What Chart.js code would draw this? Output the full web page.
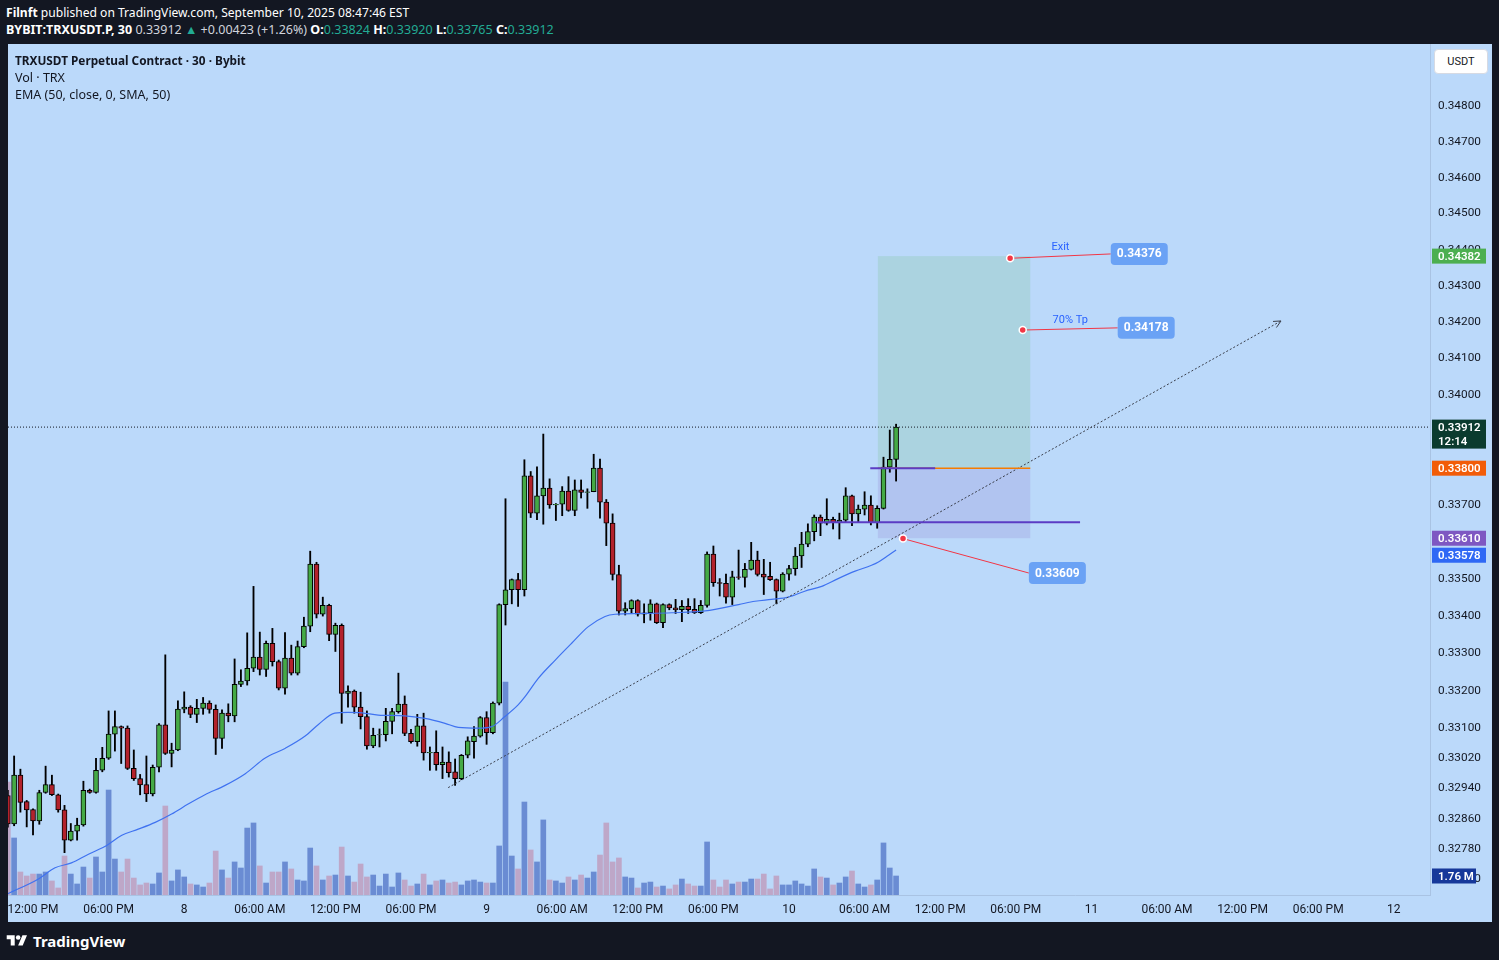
<!DOCTYPE html>
<html>
<head>
<meta charset="utf-8">
<script src="https://cdn.jsdelivr.net/npm/chart.js@4.4.1/dist/chart.umd.min.js"></script>
<style>
  html,body{margin:0;padding:0;width:1499px;height:960px;overflow:hidden;background:#131722;font-family:'Noto Sans',sans-serif}
  #hdr{position:absolute;left:6px;top:4px;color:#fff;font-size:12.5px;line-height:17px;white-space:nowrap}
  #hdr .l1{font-size:12.1px}
  #hdr .t{color:#22ab94}
  #hdr .g{color:#d1d4dc}
  #wrap{position:absolute;left:8px;top:44px;width:1484px;height:878px;background:#bbd9fa}
  #legend{position:absolute;left:7px;top:8px;color:#131722;font-size:12.5px;line-height:17px;white-space:nowrap}
  #legend .b{font-size:11.8px}
  #usdt{position:absolute;left:1426px;top:5px;width:52px;height:23px;background:#fff;border:1px solid #d6dae3;border-radius:4px;
        font:11px Roboto,sans-serif;color:#131722;text-align:center;line-height:23px}
  #foot{position:absolute;left:6px;top:931px;color:#fff;font-weight:bold;font-size:15px;line-height:20px;display:flex;align-items:center;gap:5px}
</style>
</head>
<body>
<div id="hdr">
  <div class="l1"><b>Filnft</b> published on TradingView.com, September 10, 2025 08:47:46 EST</div>
  <div><b>BYBIT:TRXUSDT.P, 30</b> <span class="g">0.33912 <span class="t">▲</span> +0.00423 (+1.26%)</span> <b>O:</b><span class="t">0.33824</span> <b>H:</b><span class="t">0.33920</span> <b>L:</b><span class="t">0.33765</span> <b>C:</b><span class="t">0.33912</span></div>
</div>
<div id="wrap">
  <canvas id="c" width="1484" height="878"></canvas>
  <div id="legend">
    <div class="b"><b>TRXUSDT Perpetual Contract · 30 · Bybit</b></div>
    <div>Vol · TRX</div>
    <div>EMA (50, close, 0, SMA, 50)</div>
  </div>
  <div id="usdt">USDT</div>
</div>
<div id="foot">
  <svg width="22" height="16" viewBox="0 0 36 28"><path d="M14 22H7V11H0V4h14v18z" fill="#fff"/><circle cx="20" cy="8" r="4" fill="#fff"/><path d="M28 22h-8l7.5-18h8L28 22z" fill="#fff"/></svg>
  <span>TradingView</span>
</div>
<script>
/* ============================
   Data (30 min bars, bar 0 = Sep 7 12:00 PM)
============================ */
const firstBar = -4;   // Sep 7 10:00 AM
const opens = [
  0.32921,0.32846,0.32975,0.32905,0.32884,0.32854,0.32929,0.32950,0.32923,0.32883,0.32803,0.32827,0.32843,0.32935,0.32929,0.32988,
  0.33020,0.33084,0.33104,0.33100,0.32993,0.32966,0.32950,0.32925,0.32996,0.33109,0.33033,0.33042,0.33151,0.33156,0.33137,0.33153,
  0.33167,0.33150,0.33073,0.33140,0.33133,0.33217,0.33226,0.33260,0.33290,0.33257,0.33327,0.33278,0.33207,0.33287,0.33247,0.33318,
  0.33373,0.33540,0.33405,0.33429,0.33351,0.33375,0.33193,0.33199,0.33156,0.33131,0.33053,0.33082,0.33083,0.33118,0.33144,0.33164,
  0.33086,0.33064,0.33106,0.33034,0.33036,0.33003,0.33010,0.32984,0.32966,0.33028,0.33064,0.33079,0.33128,0.33088,0.33167,0.33431,
  0.33471,0.33498,0.33471,0.33779,0.33678,0.33725,0.33746,0.33700,0.33702,0.33738,0.33685,0.33741,0.33734,0.33736,0.33800,0.33708,
  0.33651,0.33512,0.33413,0.33420,0.33442,0.33405,0.33409,0.33433,0.33382,0.33431,0.33422,0.33417,0.33426,0.33418,0.33409,
  0.33429,0.33567,0.33490,0.33488,0.33451,0.33506,0.33504,0.33526,0.33551,0.33513,0.33507,0.33498,0.33467,0.33513,0.33528,0.33562,
  0.33594,0.33628,0.33667,0.33651,0.33661,0.33652,0.33659,0.33725,0.33676,0.33689,0.33700,0.33652,0.33691,0.33803,0.33824
];
const highs = [
  0.32935,0.33026,0.32991,0.32908,0.32886,0.32935,0.32999,0.32975,0.32925,0.32895,0.32847,0.32861,0.32959,0.32938,0.33020,0.33049,
  0.33146,0.33146,0.33106,0.33106,0.33042,0.32977,0.33026,0.33002,0.33112,0.33296,0.33060,0.33173,0.33197,0.33160,0.33177,0.33182,
  0.33173,0.33162,0.33149,0.33165,0.33285,0.33256,0.33355,0.33480,0.33357,0.33333,0.33367,0.33282,0.33356,0.33322,0.33333,0.33397,
  0.33575,0.33545,0.33451,0.33432,0.33381,0.33379,0.33213,0.33202,0.33196,0.33146,0.33100,0.33098,0.33153,0.33153,0.33247,0.33186,
  0.33097,0.33137,0.33140,0.33050,0.33093,0.33050,0.33037,0.33018,0.33030,0.33077,0.33104,0.33131,0.33144,0.33170,0.33433,0.33717,
  0.33500,0.33515,0.33823,0.33791,0.33804,0.33893,0.33771,0.33704,0.33750,0.33777,0.33768,0.33768,0.33744,0.33838,0.33825,0.33715,
  0.33676,0.33537,0.33436,0.33444,0.33444,0.33433,0.33444,0.33435,0.33433,0.33433,0.33445,0.33442,0.33447,0.33447,0.33442,
  0.33573,0.33589,0.33501,0.33513,0.33521,0.33578,0.33542,0.33599,0.33575,0.33553,0.33545,0.33500,0.33517,0.33537,0.33585,0.33626,
  0.33649,0.33673,0.33673,0.33717,0.33667,0.33678,0.33747,0.33727,0.33700,0.33736,0.33725,0.33698,0.33830,0.33904,0.33920
];
const lows = [
  0.32837,0.32841,0.32877,0.32838,0.32817,0.32845,0.32927,0.32921,0.32877,0.32770,0.32801,0.32803,0.32840,0.32927,0.32927,0.32984,
  0.33017,0.33039,0.33006,0.32990,0.32961,0.32923,0.32905,0.32920,0.32984,0.33030,0.32997,0.33040,0.33141,0.33128,0.33115,0.33137,
  0.33140,0.33030,0.33046,0.33117,0.33117,0.33211,0.33215,0.33251,0.33242,0.33238,0.33266,0.33202,0.33191,0.33242,0.33242,0.33315,
  0.33358,0.33395,0.33400,0.33334,0.33305,0.33113,0.33156,0.33140,0.33098,0.33044,0.33048,0.33050,0.33066,0.33085,0.33140,0.33080,
  0.33060,0.33052,0.33015,0.32988,0.32988,0.32966,0.32970,0.32948,0.32963,0.33021,0.33020,0.33076,0.33057,0.33085,0.33162,0.33376,
  0.33433,0.33426,0.33454,0.33666,0.33660,0.33648,0.33691,0.33658,0.33671,0.33683,0.33671,0.33719,0.33691,0.33736,0.33664,0.33590,
  0.33497,0.33403,0.33403,0.33407,0.33400,0.33382,0.33389,0.33380,0.33369,0.33417,0.33407,0.33385,0.33407,0.33407,0.33407,
  0.33424,0.33480,0.33454,0.33435,0.33431,0.33499,0.33478,0.33524,0.33508,0.33458,0.33496,0.33433,0.33465,0.33497,0.33510,0.33531,
  0.33587,0.33603,0.33617,0.33646,0.33635,0.33608,0.33655,0.33644,0.33653,0.33673,0.33646,0.33637,0.33689,0.33789,0.33765
];
const closes = [
  0.32846,0.32975,0.32903,0.32883,0.32854,0.32929,0.32950,0.32923,0.32883,0.32803,0.32827,0.32843,0.32935,0.32929,0.32988,0.33020,
  0.33084,0.33104,0.33100,0.32993,0.32966,0.32949,0.32925,0.32996,0.33109,0.33033,0.33042,0.33151,0.33156,0.33137,0.33153,0.33167,
  0.33150,0.33073,0.33140,0.33133,0.33217,0.33226,0.33260,0.33290,0.33257,0.33327,0.33278,0.33207,0.33287,0.33247,0.33318,0.33373,
  0.33540,0.33405,0.33429,0.33351,0.33375,0.33193,0.33199,0.33156,0.33131,0.33053,0.33081,0.33083,0.33118,0.33144,0.33164,0.33086,
  0.33064,0.33106,0.33034,0.33036,0.33003,0.33010,0.32982,0.32966,0.33028,0.33066,0.33079,0.33128,0.33088,0.33167,0.33431,0.33471,
  0.33498,0.33471,0.33779,0.33678,0.33725,0.33746,0.33700,0.33702,0.33738,0.33685,0.33741,0.33734,0.33736,0.33800,0.33708,0.33651,
  0.33512,0.33413,0.33420,0.33442,0.33405,0.33409,0.33433,0.33382,0.33431,0.33422,0.33417,0.33426,0.33417,0.33409,0.33429,
  0.33567,0.33490,0.33488,0.33451,0.33506,0.33504,0.33526,0.33551,0.33512,0.33505,0.33498,0.33467,0.33513,0.33528,0.33562,0.33594,
  0.33628,0.33667,0.33651,0.33661,0.33652,0.33659,0.33725,0.33676,0.33689,0.33700,0.33652,0.33691,0.33803,0.33824,0.33912
];
// volume, millions of TRX
const volumes = [
  10.46,5.28,2.13,1.76,1.94,1.94,2.13,1.30,0.65,3.61,1.94,1.02,2.59,1.57,3.52,2.13,
  9.72,3.33,2.13,3.33,1.57,0.93,1.11,1.02,2.04,8.24,1.30,2.32,1.67,1.02,0.93,0.74,
  1.11,4.07,2.32,1.57,3.06,2.50,6.20,6.67,2.69,1.11,2.13,2.13,3.06,2.41,1.39,1.30,
  4.35,2.69,1.39,1.76,1.85,4.44,1.76,1.20,2.87,1.67,1.85,0.83,1.94,0.74,2.04,1.39,
  0.83,1.02,1.94,0.93,1.30,1.39,1.11,1.20,0.93,1.30,1.39,1.20,1.11,1.11,4.54,19.72,
  3.61,2.41,8.61,4.17,3.06,6.95,1.39,1.30,1.11,1.67,1.39,1.85,1.57,2.13,3.70,6.67,
  3.06,3.43,1.67,1.57,0.65,1.11,1.20,0.74,0.83,0.56,0.93,1.48,1.02,0.83,0.83,
  4.91,1.39,0.74,1.39,1.02,1.20,1.20,1.48,1.48,1.94,0.56,1.76,0.93,0.93,1.30,1.02,
  0.83,2.41,1.67,1.57,0.93,1.11,1.67,2.22,1.02,0.74,0.93,1.39,4.82,2.50,1.76
];
// EMA 50
const emaX = [-4.0,0.8,3.5,6.1,8.8,11.4,14.1,16.7,19.4,22.0,24.7,27.3,30.5,33.7,36.8,40.0,43.2,45.3,47.9,50.0,52.2,54.8,59.0,62.2,65.4,67.5,
  70.7,72.8,74.9,77.0,78.1,80.2,82.9,85.5,88.1,90.8,92.4,96.1,101.4,106.7,112.0,114.6,117.2,119.9,122.5,125.2,127.8,130.5,133.1,134.2,135.8,137.0];
const emaY = [0.32662,0.32700,0.32730,0.32743,0.32766,0.32786,0.32816,0.32832,0.32850,0.32872,0.32899,0.32923,0.32948,0.32979,0.33020,0.33046,
  0.33079,0.33110,0.33140,0.33142,0.33141,0.33135,0.33133,0.33126,0.33113,0.33102,0.33100,0.33104,0.33131,0.33162,0.33184,0.33233,0.33282,
  0.33327,0.33371,0.33399,0.33405,0.33407,0.33409,0.33414,0.33431,0.33440,0.33445,0.33451,0.33467,0.33480,0.33501,0.33521,0.33537,0.33546,0.33564,0.33578];

const priceTicks = [0.348,0.347,0.346,0.345,0.344,0.343,0.342,0.341,0.340,0.339,0.338,0.337,0.336,0.335,0.334,0.333,0.332,0.331,0.3302,0.3294,0.3286,0.3278,0.327];
const timeTickIdx = [0,12,24,36,48,60,72,84,96,108,120,132,144,156,168,180,192,204,216];
const timeTickLabels = ['12:00 PM','06:00 PM','8','06:00 AM','12:00 PM','06:00 PM','9','06:00 AM','12:00 PM','06:00 PM','10',
  '06:00 AM','12:00 PM','06:00 PM','11','06:00 AM','12:00 PM','06:00 PM','12'];

// drawings
const lastPrice = 0.33912, countdown = '12:14';
const posX = [134.1, 158.3], entry = 0.33800, target = 0.34382, stop = 0.33610;
const entryMarkX = [132.9, 143.2];
const levelX = [124.1, 166.2], levelPrice = 0.33653;
const trendX = [65.9, 198.1], trendY = [0.32942, 0.34203];
const noteTitles = ['Exit', '70% Tp', ''];
const notePrices = [0.34376, 0.34178, 0.33609];
const noteX = [155.1, 157.1, 138.1];
const noteBoxX = [175.6, 176.7, 162.6];
const noteBoxY = [0.34388, 0.34184, 0.33516];

const xMin = -3.97, xMax = 221.75, yMin = 0.326585, yMax = 0.349741, volMax = 78.8;

/* ============================
   Chart
============================ */
const idx = opens.map((_, i) => firstBar + i);
const up = closes.map((c, i) => c >= opens[i]);
const GREEN = '#45aa45', RED = '#b3222c';

const P = (c, x, y) => [c.scales.x.getPixelForValue(x), c.scales.y.getPixelForValue(y)];

const positionPlugin = {
  id: 'position',
  beforeDatasetsDraw(c){
    const ctx = c.ctx, a = c.chartArea;
    const [x1, yT] = P(c, posX[0], target), [x2, yE] = P(c, posX[1], entry), [, yS] = P(c, posX[0], stop);
    ctx.save(); ctx.beginPath(); ctx.rect(a.left, a.top, a.right-a.left, a.bottom-a.top); ctx.clip();
    ctx.fillStyle = '#abd3e0'; ctx.fillRect(x1, yT, x2-x1, yE-yT);
    ctx.fillStyle = '#b1c4f0'; ctx.fillRect(x1, yE, x2-x1, yS-yE);
    ctx.restore();
  }
};

function hline(ctx, c, xa, xb, v, color, w){
  const [p1, y] = P(c, xa, v), [p2] = P(c, xb, v);
  ctx.strokeStyle = color; ctx.lineWidth = w;
  ctx.beginPath(); ctx.moveTo(p1, y); ctx.lineTo(p2, y); ctx.stroke();
}

const overlayPlugin = {
  id: 'overlay',
  afterDatasetsDraw(c){
    const ctx = c.ctx, a = c.chartArea;
    ctx.save(); ctx.beginPath(); ctx.rect(a.left, a.top, a.right-a.left, a.bottom-a.top); ctx.clip();
    hline(ctx, c, posX[0], posX[1], entry, '#f57c00', 1.5);
    hline(ctx, c, entryMarkX[0], entryMarkX[1], entry, '#5b3cc4', 2);
    hline(ctx, c, levelX[0], levelX[1], levelPrice, '#5b3cc4', 2);

    // arrow head at trend line end
    const [sx, sy] = P(c, trendX[0], trendY[0]), [ex, ey] = P(c, trendX[1], trendY[1]);
    const ang = Math.atan2(ey-sy, ex-sx);
    ctx.strokeStyle = '#3a3f4b'; ctx.lineWidth = 1;
    ctx.beginPath();
    ctx.moveTo(ex - 8*Math.cos(ang-0.45), ey - 8*Math.sin(ang-0.45)); ctx.lineTo(ex, ey);
    ctx.lineTo(ex - 8*Math.cos(ang+0.45), ey - 8*Math.sin(ang+0.45));
    ctx.stroke();

    // price notes
    notePrices.forEach((v, i) => {
      const [dx, dy] = P(c, noteX[i], v), [bx, by] = P(c, noteBoxX[i], noteBoxY[i]);
      const bw = 57, bh = 22, lx = bx - bw/2;
      ctx.strokeStyle = '#f23645'; ctx.lineWidth = 1;
      ctx.beginPath(); ctx.moveTo(dx, dy); ctx.lineTo(lx, by); ctx.stroke();
      ctx.fillStyle = '#f23645'; ctx.strokeStyle = '#fff'; ctx.lineWidth = 1.5;
      ctx.beginPath(); ctx.arc(dx, dy, 3.5, 0, Math.PI*2); ctx.fill(); ctx.stroke();
      ctx.fillStyle = '#6aa2f5';
      ctx.beginPath(); ctx.roundRect(lx, by - bh/2, bw, bh, 4); ctx.fill();
      ctx.fillStyle = '#fff'; ctx.font = 'bold 12px Roboto'; ctx.textAlign = 'center'; ctx.textBaseline = 'middle';
      ctx.fillText(v.toFixed(5), bx, by + 0.5);
      if (noteTitles[i]) {
        ctx.fillStyle = '#2962ff'; ctx.font = '11px Roboto';
        ctx.fillText(noteTitles[i], (dx + lx)/2, (dy + by)/2 - 9);
      }
    });
    ctx.restore();
  }
};

const tagPlugin = {
  id: 'tags',
  afterDraw(c){
    const ctx = c.ctx, a = c.chartArea;
    const tags = [
      { v: target, bg: '#4caf50' },
      { v: lastPrice, bg: '#0b3b2e', sub: countdown },
      { v: entry, bg: '#f25c08' },
      { v: stop, bg: '#7e57c2' },
      { v: emaY[emaY.length-1], bg: '#2f68f5' }
    ].map(t => ({ ...t, y: c.scales.y.getPixelForValue(t.v) })).sort((p, q) => p.y - q.y);
    let prev = -99;
    ctx.save();
    ctx.textBaseline = 'middle'; ctx.textAlign = 'left';
    tags.forEach(t => {
      let y = Math.max(t.y, prev);
      const h = t.sub ? 29 : 15;
      ctx.fillStyle = t.bg;
      ctx.fillRect(a.right + 2, y - 7.5, 54, h);
      ctx.fillStyle = '#fff'; ctx.font = '600 11.5px Roboto';
      ctx.fillText(t.v.toFixed(5), a.right + 8, y + 1);
      if (t.sub) ctx.fillText(t.sub, a.right + 8, y + 15);
      prev = y + h + 2;
    });
    const vy = c.scales.yv.getPixelForValue(volumes[volumes.length-1]);
    ctx.fillStyle = '#16389a'; ctx.fillRect(a.right + 2, vy - 7.5, 44, 15);
    ctx.fillStyle = '#fff'; ctx.fillText(volumes[volumes.length-1].toFixed(2) + ' M', a.right + 8, vy + 1);
    ctx.restore();
  }
};

Chart.defaults.font.family = 'Roboto';
Chart.defaults.color = '#131722';

new Chart(document.getElementById('c').getContext('2d'), {
  type: 'bar',
  data: {
    datasets: [
      { type:'bar', label:'Vol', yAxisID:'yv', order:10, grouped:false, barThickness:5,
        data: idx.map((x, i) => ({ x, y: volumes[i] })),
        backgroundColor: up.map(u => u ? '#6a8cd3' : '#bea7c8') },
      { type:'bar', label:'wick', yAxisID:'y', order:6, grouped:false, barThickness:1.2,
        data: idx.map((x, i) => ({ x, y: [lows[i], highs[i]] })), backgroundColor:'#000' },
      { type:'bar', label:'body', yAxisID:'y', order:5, grouped:false, barThickness:5,
        data: idx.map((x, i) => ({ x, y: [opens[i], closes[i]] })),
        backgroundColor: up.map(u => u ? GREEN : RED), borderColor:'#000', borderWidth:1, borderSkipped:false },
      { type:'line', label:'EMA', yAxisID:'y', order:4, data: emaX.map((x, i) => ({ x, y: emaY[i] })),
        borderColor:'#3f72f0', borderWidth:1.2, pointRadius:0, cubicInterpolationMode:'monotone' },
      { type:'line', label:'last', yAxisID:'y', order:3, data:[{ x:xMin, y:lastPrice }, { x:xMax, y:lastPrice }],
        borderColor:'#131722', borderWidth:1, borderDash:[1,2], pointRadius:0 },
      { type:'line', label:'trend', yAxisID:'y', order:2, data: trendX.map((x, i) => ({ x, y: trendY[i] })),
        borderColor:'#3a3f4b', borderWidth:1, borderDash:[2,2], pointRadius:0 }
    ]
  },
  options: {
    responsive:false, animation:false,
    layout:{ padding:0 },
    plugins:{ legend:{ display:false }, tooltip:{ enabled:false } },
    scales: {
      x: { type:'linear', min:xMin, max:xMax, offset:false,
        grid:{ display:true, drawOnChartArea:false, drawTicks:false, offset:false },
        border:{ display:true, color:'#a9c3e3' },
        afterBuildTicks: s => { s.ticks = timeTickIdx.map(v => ({ value:v })); },
        afterFit: s => { s.height = 27; s.paddingLeft = 0; s.paddingRight = 0; },
        ticks:{ autoSkip:false, maxRotation:0, padding:8, font:{ size:12 },
          callback: v => timeTickLabels[timeTickIdx.indexOf(v)] } },
      y: { type:'logarithmic', position:'right', min:yMin, max:yMax,
        grid:{ display:true, drawOnChartArea:false, drawTicks:false },
        border:{ display:true, color:'#a9c3e3' },
        afterBuildTicks: s => { s.ticks = priceTicks.map(v => ({ value:v })); },
        afterFit: s => { s.width = 62; s.paddingTop = 0; s.paddingBottom = 0; },
        ticks:{ padding:8, font:{ size:11.8 }, callback: v => Number(v).toFixed(5) } },
      yv: { type:'linear', display:false, min:0, max:volMax }
    }
  },
  plugins: [positionPlugin, overlayPlugin, tagPlugin]
});
</script>
</body>
</html>
